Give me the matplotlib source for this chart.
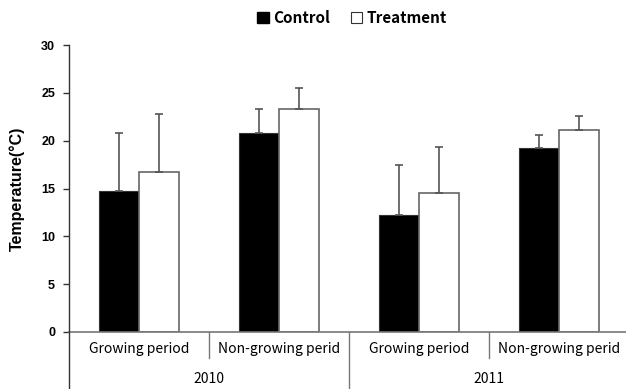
import numpy as np
import matplotlib
matplotlib.use("Agg")
import matplotlib.pyplot as plt
from matplotlib.patches import Patch
from matplotlib.transforms import blended_transform_factory

# data
periods = ["Growing period", "Non-growing perid", "Growing period", "Non-growing perid"]
years = ["2010", "2011"]
control = [14.7, 20.8, 12.2, 19.2]
control_sd = [6.1, 2.5, 5.3, 1.4]
treatment = [16.7, 23.3, 14.5, 21.1]
treatment_sd = [6.1, 2.2, 4.8, 1.5]

cat_font = ["Noto Sans CJK KR", "DejaVu Sans"]
num_font = ["Liberation Sans", "DejaVu Sans"]

fig = plt.figure(figsize=(6.26, 3.89), dpi=100)
fig.patch.set_facecolor("white")
ax = fig.add_axes([69 / 626, 57 / 389, 557 / 626, 287 / 389])

x = np.arange(len(periods))
w = 40 / 140
err_kw = dict(ecolor="#555555", elinewidth=1.2, capsize=3, capthick=1.2)
ax.bar(x - w / 2, control, w, color="black", edgecolor="#333333", lw=0.8,
       yerr=[np.zeros(4), control_sd], error_kw=err_kw, label="Control")
ax.bar(x + w / 2, treatment, w, color="white", edgecolor="#666666", lw=1.2,
       yerr=[np.zeros(4), treatment_sd], error_kw=err_kw, label="Treatment")

ax.set_xlim(-0.5, -0.5 + 557 / 140)
ax.set_ylim(0, 30)
ax.set_yticks(range(0, 31, 5))
ax.set_xticks([])
for sp in ["top", "right", "bottom", "left"]:
    ax.spines[sp].set_visible(False)
ax.tick_params(axis="y", direction="out", length=4, width=1, color="#333333", pad=6)
for t in ax.get_yticklabels():
    t.set_fontfamily(num_font)
    t.set_fontweight("bold")
    t.set_fontsize(9)

# axis lines, separators
tr = blended_transform_factory(ax.transData, ax.transAxes)
ax.axhline(0, color="#777777", lw=1.2, clip_on=False)
ax.plot([0, 0], [-57 / 287, 1], transform=ax.transAxes, color="#333333", lw=1, clip_on=False)
for b in [0.5, 2.5]:
    ax.plot([b, b], [0, -26 / 287], transform=tr, color="#777777", lw=1, clip_on=False)
ax.plot([1.5, 1.5], [0, -57 / 287], transform=tr, color="#777777", lw=1, clip_on=False)

for xi, p in zip(x, periods):
    ax.text(xi, -17 / 287, p, transform=tr, ha="center", va="center",
            family=cat_font, fontsize=10)
for i, yr in enumerate(years):
    ax.text(2 * i + 0.5, -47 / 287, yr, transform=tr, ha="center", va="center",
            family=cat_font, fontsize=10)

ax.set_ylabel("Temperature(°C)", family=num_font, fontweight="bold", fontsize=11.5)
ax.yaxis.set_label_coords(-44 / 557, 0.5)

handles = [Patch(facecolor="black", edgecolor="black"),
           Patch(facecolor="white", edgecolor="#333333", lw=0.8)]
fig.legend(handles, ["Control", "Treatment"], loc="center", bbox_to_anchor=(352 / 626, 1 - 18 / 389),
           ncol=2, frameon=False, handlelength=0.75, handleheight=0.75, handletextpad=0.25,
           columnspacing=1.4, prop=dict(family=cat_font, weight="bold", size=11))

fig.savefig("out.png", dpi=100)
